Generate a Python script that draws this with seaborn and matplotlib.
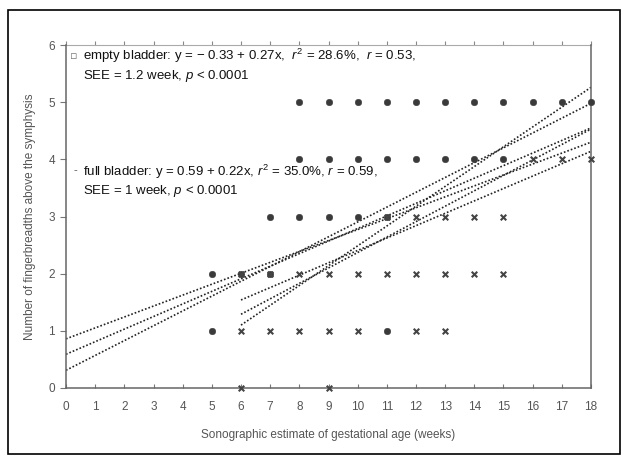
import numpy as np
import pandas as pd
import matplotlib
matplotlib.use("Agg")
import matplotlib.pyplot as plt
import seaborn as sns

# Data
empty_x = [8, 9, 10, 11, 12, 13, 14, 15, 16, 17, 18,
           8, 9, 10, 11, 12, 13, 14, 15,
           7, 8, 9, 10, 11,
           5, 6, 7,
           5, 11]
empty_y = [5] * 11 + [4] * 8 + [3] * 5 + [2] * 3 + [1] * 2

full_x = [16, 17, 18,
          11, 12, 13, 14, 15,
          6, 7, 8, 9, 10, 11, 12, 13, 14, 15,
          6, 7, 8, 9, 10, 12, 13,
          6, 9]
full_y = [4] * 3 + [3] * 5 + [2] * 10 + [1] * 7 + [0] * 2

# regression lines (from the printed equations) and the band lines
full_fit_x = [0, 18]
full_mean = [0.59 + 0.22 * x for x in full_fit_x]
full_band_a = [0.86, 4.30]
full_band_b = [0.31, 4.98]

empty_fit_x = [6, 18]
empty_mean = [-0.33 + 0.27 * x for x in empty_fit_x]
empty_band_a = [1.54, 4.14]
empty_band_b = [1.10, 5.26]

x_ticks = list(range(0, 19))
y_ticks = list(range(0, 7))

pts = pd.DataFrame({
    "week": empty_x + full_x,
    "fingers": empty_y + full_y,
    "bladder": ["empty"] * len(empty_x) + ["full"] * len(full_x),
})

sns.set_theme(style="white")
plt.rcParams['font.family'] = ['Liberation Sans', 'DejaVu Sans']
plt.rcParams['mathtext.fontset'] = 'custom'
plt.rcParams['mathtext.rm'] = 'Liberation Sans'
plt.rcParams['mathtext.it'] = 'Liberation Sans:italic'

fig = plt.figure(figsize=(6.24, 4.58), dpi=100)
ax = fig.add_axes([66 / 624, 70 / 458, 525 / 624, 343 / 458])

sns.scatterplot(data=pts[pts.bladder == "empty"], x="week", y="fingers", ax=ax,
                marker="o", s=22, color="#3a3a3a", edgecolor="#3a3a3a",
                clip_on=False, legend=False, zorder=3)
sns.scatterplot(data=pts[pts.bladder == "full"], x="week", y="fingers", ax=ax,
                marker="x", s=16, color="#444444", linewidth=1.5,
                clip_on=False, legend=False, zorder=3)

dot = (0, (1.0, 1.2))
for xs, ys in [(full_fit_x, full_mean), (full_fit_x, full_band_a), (full_fit_x, full_band_b),
               (empty_fit_x, empty_mean), (empty_fit_x, empty_band_a), (empty_fit_x, empty_band_b)]:
    sns.lineplot(x=xs, y=ys, ax=ax, color="#222222", linewidth=1.2,
                 linestyle=dot, legend=False, zorder=2)

ax.set_xlim(0, 18)
ax.set_ylim(0, 6)
ax.set_xticks(x_ticks)
ax.set_yticks(y_ticks)
ax.set_yticks([1], minor=True)
ax.set_xticklabels([str(t) for t in x_ticks], fontsize=8.5, color="#555555")
ax.set_yticklabels([str(t) for t in y_ticks], fontsize=8.5, color="#555555")
ax.tick_params(axis="x", bottom=True, top=False, direction="in", length=3, width=0.8,
               color="#777777", pad=9)
ax.tick_params(axis="y", which="major", left=True, right=False, direction="out",
               length=4, width=0.8, color="#777777", pad=4)
ax.tick_params(axis="y", which="minor", left=False, right=True, direction="out",
               length=4, width=0.8, color="#777777")
for side in ["left", "bottom", "right"]:
    ax.spines[side].set_color("#666666")
    ax.spines[side].set_linewidth(1.1)
ax.spines["top"].set_visible(False)

# small marks along the top edge
top = ax.secondary_xaxis("top")
top.set_xticks(x_ticks)
top.tick_params(direction="out", length=3, width=0.8, color="#888888", labeltop=False)
top.spines["top"].set_color("#aaaaaa")
top.spines["top"].set_linewidth(0.8)

ax.set_xlabel("Sonographic estimate of gestational age (weeks)", fontsize=8.5,
              color="#555555", labelpad=12)
ax.set_ylabel("Number of fingerbreadths above the symphysis", fontsize=8.5,
              color="#555555", labelpad=9)

txt = dict(fontsize=9.5, color="#111111", transform=fig.transFigure, va="center")
fig.text(83 / 624, 1 - 56 / 458,
         r"empty bladder: y = $-$ 0.33 + 0.27x,  $\mathit{r}^2$ = 28.6%,  $\mathit{r}$ = 0.53,", **txt)
fig.text(83 / 624, 1 - 76 / 458, r"SEE = 1.2 week, $\mathit{p}$ < 0.0001", **txt)
fig.text(83 / 624, 1 - 172 / 458,
         r"full bladder: y = 0.59 + 0.22x, $\mathit{r}^2$ = 35.0%, $\mathit{r}$ = 0.59,", **txt)
fig.text(83 / 624, 1 - 191 / 458, r"SEE = 1 week, $\mathit{p}$ < 0.0001", **txt)
fig.text(70 / 624, 1 - 56 / 458, "\u25ab", fontsize=8, color="#777777",
         family="DejaVu Sans", transform=fig.transFigure, va="center")
fig.text(73 / 624, 1 - 170 / 458, "-", fontsize=8, color="#555555",
         transform=fig.transFigure, va="center")

# frame round the whole picture
fig.patches.append(plt.Rectangle((8 / 624, 4 / 458), 612 / 624, 444 / 458,
                                 transform=fig.transFigure, fill=False,
                                 edgecolor="black", linewidth=1.2))

fig.savefig("out.png", dpi=100)
